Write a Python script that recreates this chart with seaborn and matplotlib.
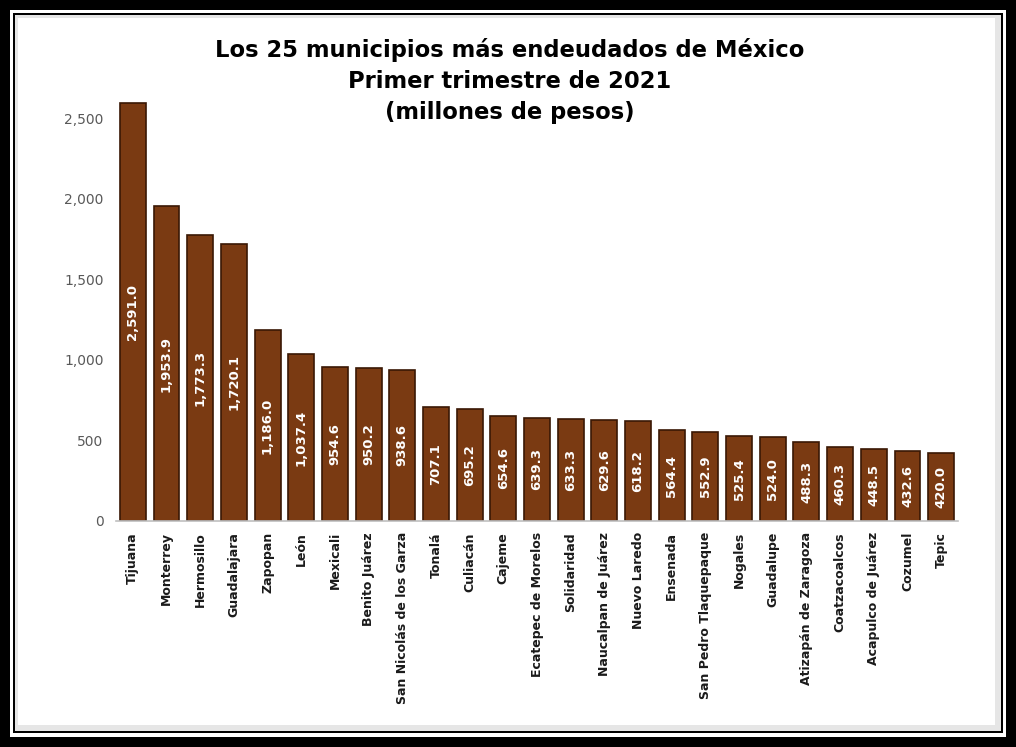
import matplotlib
matplotlib.use("Agg")
import matplotlib.pyplot as plt
import seaborn as sns
import pandas as pd
from matplotlib.patches import Rectangle
from matplotlib.ticker import FuncFormatter

municipios = ["Tijuana", "Monterrey", "Hermosillo", "Guadalajara", "Zapopan", "León",
              "Mexicali", "Benito Juárez", "San Nicolás de los Garza", "Tonalá", "Culiacán",
              "Cajeme", "Ecatepec de Morelos", "Solidaridad", "Naucalpan de Juárez",
              "Nuevo Laredo", "Ensenada", "San Pedro Tlaquepaque", "Nogales", "Guadalupe",
              "Atizapán de Zaragoza", "Coatzacoalcos", "Acapulco de Juárez", "Cozumel", "Tepic"]
deuda = [2591.0, 1953.9, 1773.3, 1720.1, 1186.0, 1037.4, 954.6, 950.2, 938.6, 707.1,
         695.2, 654.6, 639.3, 633.3, 629.6, 618.2, 564.4, 552.9, 525.4, 524.0,
         488.3, 460.3, 448.5, 432.6, 420.0]
yticks = [0, 500, 1000, 1500, 2000, 2500]
titulo = ["Los 25 municipios más endeudados de México",
          "Primer trimestre de 2021",
          "(millones de pesos)"]

df = pd.DataFrame({"municipio": municipios, "deuda": deuda})

sns.set_theme(style="white")
plt.rcParams["font.family"] = ["DejaVu Sans"]

W, H = 1016, 747
fig = plt.figure(figsize=(W / 100, H / 100), dpi=100)
fig.patch.set_facecolor("white")

# decorative frame
def px_rect(x0, y0, x1, y1, **kw):
    fig.patches.append(Rectangle((x0 / W, 1 - y1 / H), (x1 - x0) / W, (y1 - y0) / H,
                                 transform=fig.transFigure, figure=fig, zorder=-5, **kw))

px_rect(0, 0, W, H, facecolor="black", edgecolor="none")
px_rect(10, 10, W - 10, H - 10, facecolor="white", edgecolor="none")
px_rect(13, 13, W - 13, H - 14, facecolor="black", edgecolor="none")
px_rect(15, 15, W - 15, H - 16, facecolor="#e6e6e6", edgecolor="none")
px_rect(18, 18, W - 21, H - 22, facecolor="white", edgecolor="none")

ax = fig.add_axes([116 / W, (H - 521) / H, (958 - 116) / W, (521 - 102) / H])
ax.set_zorder(5)
ax.set_facecolor("none")

sns.barplot(data=df, x="municipio", y="deuda", color="#7A3A12", width=0.77,
            edgecolor="#3a1804", linewidth=1.2, saturation=1, ax=ax)

ax.set_ylim(0, 2600)
ax.set_xlim(-0.5, len(municipios) - 0.5)
ax.set_yticks(yticks)
ax.yaxis.set_major_formatter(FuncFormatter(lambda v, p: f"{v:,.0f}"))
ax.set_xlabel("")
ax.set_ylabel("")

for s in ["top", "right", "left"]:
    ax.spines[s].set_visible(False)
ax.spines["bottom"].set_color("#bfbfbf")
ax.spines["bottom"].set_linewidth(1.2)

ax.tick_params(axis="y", length=0, pad=9, labelsize=10, labelcolor="#595959")
ax.tick_params(axis="x", length=0, pad=8)
ax.set_xticks(range(len(municipios)))
ax.set_xticklabels(municipios, rotation=90, fontsize=9, fontweight="bold",
                   color="#1a1a1a", va="top", ha="center")

labels = [f"{v:,.1f}" for v in deuda]
ax.bar_label(ax.containers[0], labels=labels, label_type="center", rotation=90,
             color="white", fontsize=9.5, fontweight="bold")

ys = [50, 82, 113]
for t, y in zip(titulo, ys):
    fig.text(510 / W, 1 - y / H, t, ha="center", va="center", fontsize=16.3,
             fontweight="bold", color="black", zorder=6)

fig.savefig("out.png", dpi=100, facecolor=fig.get_facecolor())
